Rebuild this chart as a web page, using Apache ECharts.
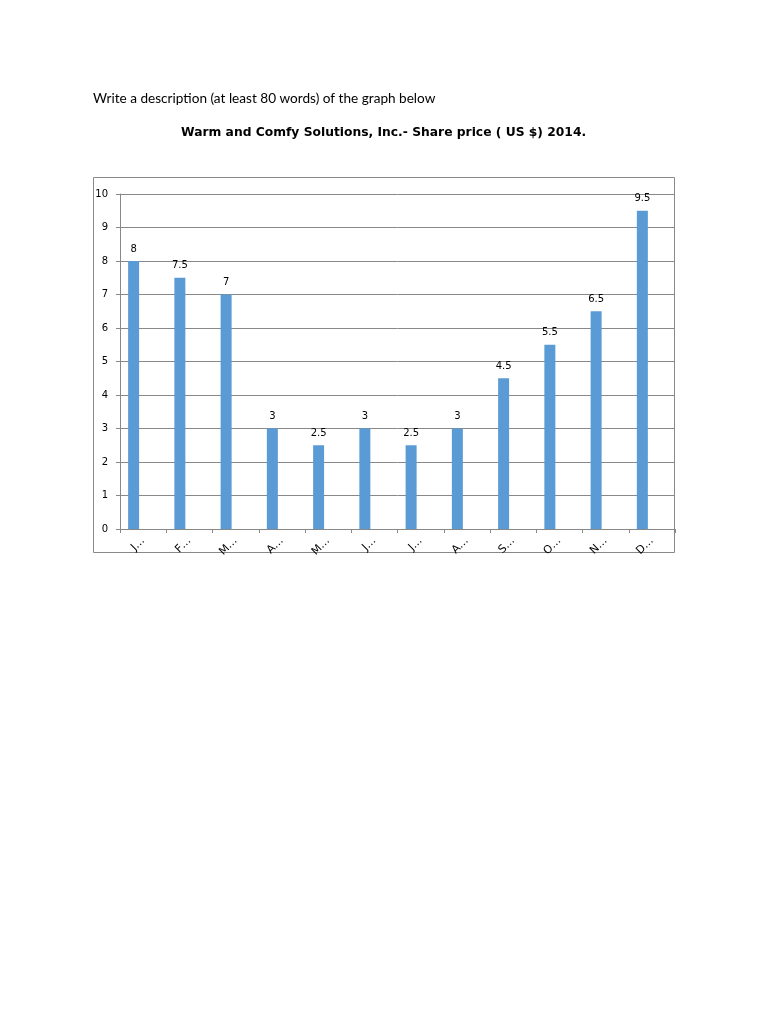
<!DOCTYPE html>
<html><head><meta charset="utf-8">
<script src="https://cdn.jsdelivr.net/npm/echarts@6/dist/echarts.min.js"></script>
<style>html,body{margin:0;padding:0;background:#fff}#c{width:768px;height:1024px}</style>
</head><body><div id="c"></div>
<script>
var months = ['Jan','Feb','Mar','Apr','May','Jun','Jul','Aug','Sep','Oct','Nov','Dec'];
var sharePrice = [8, 7.5, 7, 3, 2.5, 3, 2.5, 3, 4.5, 5.5, 6.5, 9.5];
var emptySeries = [null,null,null,null,null,null,null,null,null,null,null,null];
var instruction = 'Write a description (at least 80 words) of the graph below';
var chartTitle = 'Warm and Comfy Solutions, Inc.- Share price ( US $) 2014.';

var chart = echarts.init(document.getElementById('c'));
chart.setOption({
  animation: false,
  title: [
    {text: instruction, left: 88, top: 87, textStyle: {fontFamily: 'Lato', fontWeight: 'normal', fontSize: 13.6, color: '#000'}},
    {text: chartTitle, left: 176, top: 122, textStyle: {fontFamily: 'DejaVu Sans', fontWeight: 'bold', fontSize: 12.3, color: '#000'}}
  ],
  graphic: [{type: 'rect', shape: {x: 93.5, y: 177.5, width: 581, height: 375}, style: {fill: 'none', stroke: '#888', lineWidth: 1}, z: -1}],
  grid: {left: 120, top: 194, right: 93, bottom: 495},
  xAxis: {
    type: 'category', data: months,
    axisLine: {lineStyle: {color: '#888'}},
    axisTick: {show: true, lineStyle: {color: '#888'}, length: 4},
    axisLabel: {rotate: 45, fontFamily: 'DejaVu Sans', fontSize: 11, color: '#000', margin: 10,
      formatter: function(v){ return v.charAt(0) + '…'; }}
  },
  yAxis: {
    type: 'value', min: 0, max: 10, interval: 1,
    axisLine: {show: true, lineStyle: {color: '#888'}},
    axisTick: {show: true, length: 4, lineStyle: {color: '#888'}},
    splitLine: {lineStyle: {color: '#888'}},
    axisLabel: {fontFamily: 'DejaVu Sans', fontSize: 10, color: '#000', margin: 12}
  },
  series: [
    {type: 'bar', data: sharePrice, barWidth: 11, barGap: '73%',
     itemStyle: {color: '#5B9BD5'},
     label: {show: true, position: 'top', fontFamily: 'DejaVu Sans', fontSize: 10, color: '#000', distance: 7}},
    {type: 'bar', data: emptySeries, barWidth: 11}
  ]
});
</script></body></html>
